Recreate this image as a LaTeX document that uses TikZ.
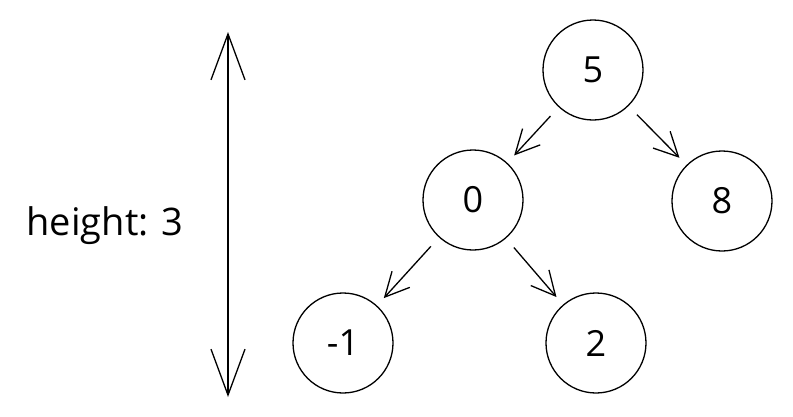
\documentclass[tikz,border=0pt]{standalone}
\usepackage{fontspec}
\setmainfont{Open Sans}
\usepackage{tikz}
\usetikzlibrary{
  arrows.meta,
  positioning,
}

\begin{document}
\begin{tikzpicture}[
  x=1pt, y=1pt,
  line width=1.3pt,
  treenode/.style={draw, circle, minimum size=100pt, inner sep=0pt,
    font=\fontsize{36}{40}\selectfont},
  treeedge/.style={-{Straight Barb[length=24pt,width=24pt,line width=1.3pt]},
    shorten <=12pt, shorten >=10pt},
]

\useasboundingbox (0,0) rectangle (793,-416);

% height marker
\coordinate (htop) at (228,-32);
\coordinate (hbot) at (228,-397);
\draw[{Straight Barb[length=46pt,width=34pt,line width=1.3pt]}-{Straight Barb[length=46pt,width=34pt,line width=1.3pt]}] (htop) -- (hbot);
\node[font=\fontsize{38}{42}\selectfont] (hlabel) at (105,-226) {height: 3};

% tree
\node[treenode] (n5) at (593,-70) {5};
\node[treenode] (n0) at (473,-200) {0};
\node[treenode] (n8) at (722,-201) {8};
\node[treenode] (nm1) at (343,-343) {-1};
\node[treenode] (n2) at (596,-343) {2};

\draw[treeedge] (n5) -- (n0);
\draw[treeedge] (n5) -- (n8);
\draw[treeedge] (n0) -- (nm1);
\draw[treeedge] (n0) -- (n2);

\end{tikzpicture}
\end{document}
